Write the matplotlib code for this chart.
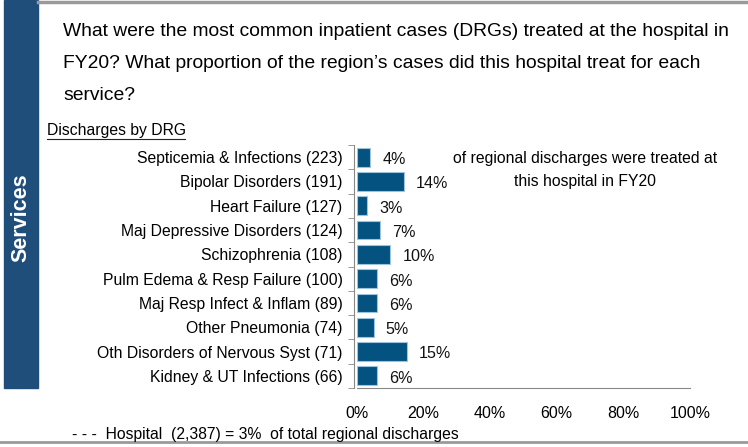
import matplotlib
matplotlib.use("Agg")
from matplotlib import pyplot as plt
from matplotlib.patches import Rectangle

plt.rcParams['font.family'] = ['Liberation Sans', 'DejaVu Sans']

# DRG categories with discharge counts, and share of regional discharges (%)
drgs = ["Septicemia & Infections (223)", "Bipolar Disorders (191)",
        "Heart Failure (127)", "Maj Depressive Disorders (124)",
        "Schizophrenia (108)", "Pulm Edema & Resp Failure (100)",
        "Maj Resp Infect & Inflam (89)", "Other Pneumonia (74)",
        "Oth Disorders of Nervous Syst (71)", "Kidney & UT Infections (66)"]
share = [4, 14, 3, 7, 10, 6, 6, 5, 15, 6]
xticks = [0, 20, 40, 60, 80, 100]
title_lines = ["What were the most common inpatient cases (DRGs) treated at the hospital in",
               "FY20? What proportion of the region\u2019s cases did this hospital treat for each",
               "service?"]

W, H = 748, 447
fig = plt.figure(figsize=(W/100, H/100), dpi=100)

# frame: blue side bar, grey rules top and bottom
fig.patches.append(Rectangle((4/W, 1-388/H), 34/W, 388/H, transform=fig.transFigure,
                             color="#1f4e7a", zorder=0))
fig.add_artist(plt.Line2D([38/W, 1], [1-2/H, 1-2/H], color="#9a9a9a", lw=2.5))
fig.add_artist(plt.Line2D([0, 1], [1-442/H, 1-442/H], color="#9a9a9a", lw=2))
fig.text(21/W, 1-218/H, "Services", rotation=90, color="white", fontsize=15.5,
         fontweight="bold", ha="center", va="center")

# title, one line at a time
for ty, line in zip([31, 63, 95], title_lines):
    fig.text(63/W, 1-ty/H, line, fontsize=13.9, va="center", ha="left")
fig.text(47/W, 1-130/H, "Discharges by DRG", fontsize=11.3, va="center", ha="left")
fig.add_artist(plt.Line2D([47/W, 185/W], [1-139/H, 1-139/H], color="#222222", lw=0.8))

# main axes
ax = fig.add_axes([357/W, 1-388/H, (690-357)/W, (388-145)/H])
y = list(range(len(drgs)))
ax.barh(y, share, height=0.77, color="#03527f", edgecolor="#9ec3dc", linewidth=0.8)
for yi, v in zip(y, share):
    ax.text(v + 3.6, yi + 0.1, f"{v}%", va="center", ha="left", fontsize=11.6, color="#111111")

ax.set_xlim(0, 100)
ax.set_ylim(len(drgs) - 0.5, -0.5)
ax.set_yticks(y)
ax.set_yticklabels(drgs)
ax.set_yticks([i - 0.5 for i in range(len(drgs) + 1)], minor=True)
ax.tick_params(axis="y", which="major", length=0, pad=8.5, labelsize=11.3)
ax.tick_params(axis="y", which="minor", length=4, color="#888888")
ax.set_xticks(xticks)
ax.set_xticklabels([f"{t}%" for t in xticks])
ax.tick_params(axis="x", length=0, pad=13, labelsize=11.5)
for s in ["top", "right"]:
    ax.spines[s].set_visible(False)
ax.spines["left"].set_color("#888888")
ax.spines["bottom"].set_color("#888888")
ax.spines["left"].set_position(("outward", 2))

fig.text(453/W, 1-158/H, "of regional discharges were treated at", fontsize=11.3,
         va="center", ha="left")
fig.text(585/W, 1-182/H, "this hospital in FY20", fontsize=11.3, va="center", ha="center")
fig.text(72/W, 1-434/H, "- - -  Hospital  (2,387) = 3%  of total regional discharges",
         fontsize=11.3, va="center", ha="left")

fig.savefig("out.png", dpi=100)
